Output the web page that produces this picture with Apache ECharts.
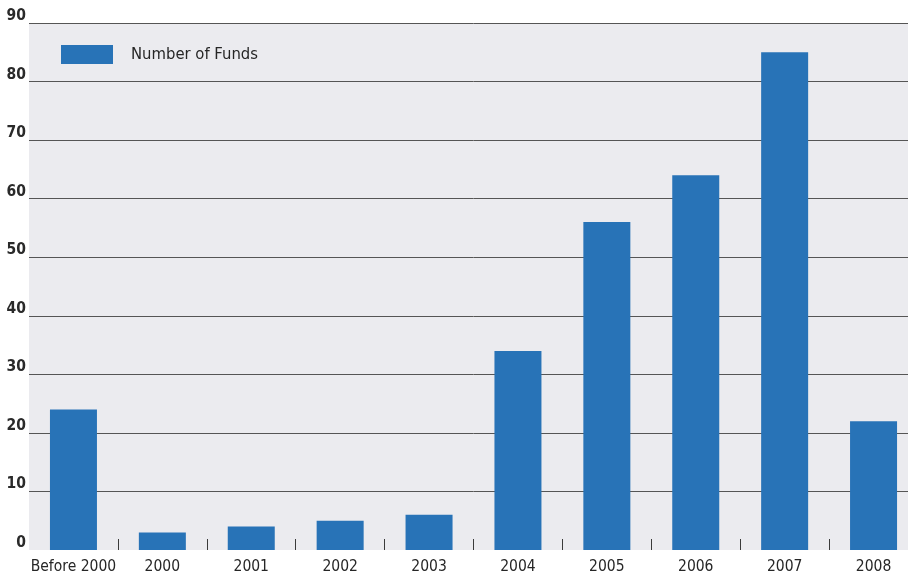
<!DOCTYPE html>
<html>
<head>
<meta charset="utf-8">
<script src="https://cdn.jsdelivr.net/npm/echarts@6/dist/echarts.min.js"></script>
<style>
  html, body { margin: 0; padding: 0; background: #ffffff; overflow: hidden; }
  /* the last category runs past the right edge of the window */
  #chart { width: 918px; height: 576px; }
</style>
</head>
<body>
<div id="chart"></div>
<script>
// Funds launched per period
const categories = ['Before 2000', '2000', '2001', '2002', '2003', '2004', '2005', '2006', '2007', '2008'];
const fundCounts = [24, 3, 4, 5, 6, 34, 56, 64, 85, 22];
const seriesName = 'Number of Funds';
const yTicks = { min: 0, max: 90, interval: 10 };

const FONT = '"DejaVu Sans Condensed", "DejaVu Sans", sans-serif';
const chart = echarts.init(document.getElementById('chart'), null, { renderer: 'canvas' });

chart.setOption({
  animation: false,
  backgroundColor: '#ffffff',
  grid: {
    left: 29, right: 0, top: 23, bottom: 26,
    show: true, backgroundColor: '#ebebef', borderWidth: 0
  },
  legend: {
    show: true,
    left: 56, top: 40,
    itemWidth: 52, itemHeight: 19, itemGap: 10,
    icon: 'rect',
    formatter: '{t|{name}}',
    textStyle: {
      fontFamily: FONT, fontSize: 16.5, color: '#262626',
      rich: { t: { fontFamily: FONT, fontSize: 16.5, color: '#262626', padding: [0, 0, 0, 13] } }
    },
    data: [seriesName]
  },
  xAxis: {
    type: 'category',
    data: categories,
    boundaryGap: true,
    axisLine: { show: false },
    axisTick: {
      show: true, inside: true, length: 11,
      interval: function (index) { return index !== 0; },
      lineStyle: { color: '#3a3a3a', width: 1 }
    },
    axisLabel: {
      fontFamily: FONT, fontSize: 15.5, color: '#262626', margin: 9, interval: 0
    }
  },
  yAxis: {
    type: 'value',
    min: yTicks.min, max: yTicks.max, interval: yTicks.interval,
    axisLine: { show: false },
    axisTick: { show: false },
    splitLine: { show: true, showMinLine: false, lineStyle: { color: '#555555', width: 1 } },
    axisLabel: {
      fontFamily: FONT, fontSize: 15.5, fontWeight: 'bold', color: '#2a2a2a',
      margin: 3, verticalAlign: 'bottom', padding: [0, 0, -1, 0],
      showMinLabel: true
    }
  },
  series: [{
    name: seriesName,
    type: 'bar',
    data: fundCounts,
    barWidth: 47,
    itemStyle: { color: '#2873b7' }
  }]
});
</script>
</body>
</html>
